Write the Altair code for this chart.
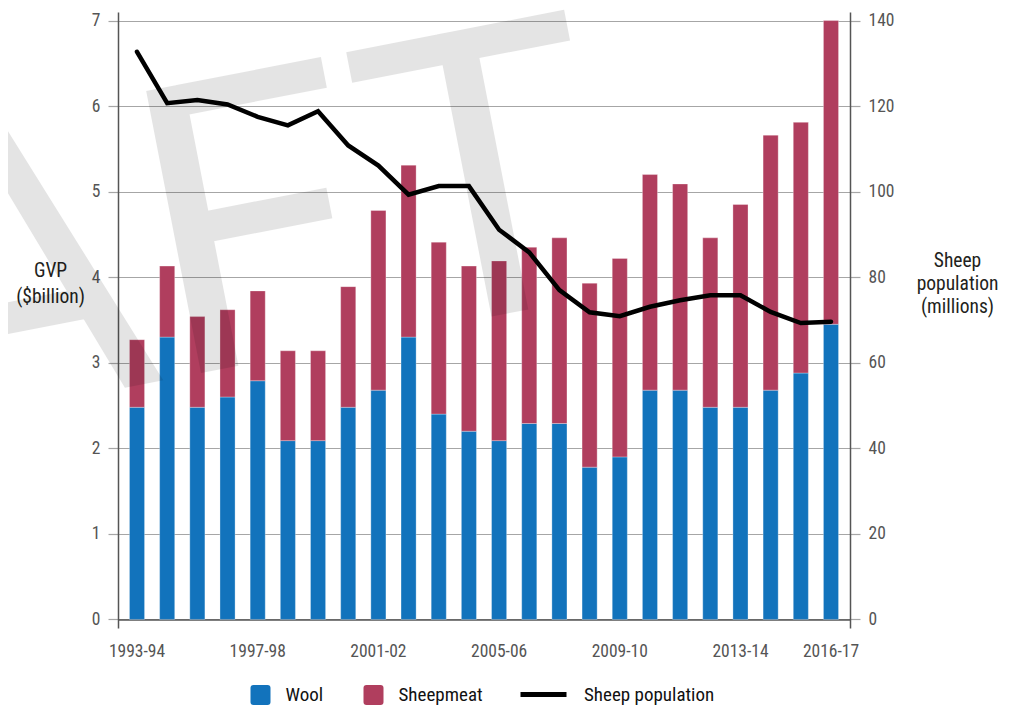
import json
import altair as alt
import pandas as pd

# ---------------- data ----------------
YEARS = ["1993-94", "1994-95", "1995-96", "1996-97", "1997-98", "1998-99",
         "1999-00", "2000-01", "2001-02", "2002-03", "2003-04", "2004-05",
         "2005-06", "2006-07", "2007-08", "2008-09", "2009-10", "2010-11",
         "2011-12", "2012-13", "2013-14", "2014-15", "2015-16", "2016-17"]
WOOL = [2.48, 3.30, 2.48, 2.60, 2.79, 2.09, 2.09, 2.48, 2.68, 3.30, 2.40, 2.20,
        2.09, 2.29, 2.29, 1.78, 1.90, 2.68, 2.68, 2.48, 2.48, 2.68, 2.88, 3.45]
SHEEPMEAT = [0.79, 0.83, 1.06, 1.02, 1.05, 1.05, 1.05, 1.41, 2.10, 2.01, 2.01, 1.93,
             2.10, 2.06, 2.17, 2.15, 2.32, 2.52, 2.41, 1.98, 2.37, 2.98, 2.93, 3.55]
POPULATION = [132.7, 120.7, 121.4, 120.4, 117.5, 115.5, 118.8, 110.8, 106.1, 99.3,
              101.3, 101.3, 91.1, 85.8, 77.0, 71.8, 70.9, 73.1, 74.6, 75.8,
              75.8, 71.9, 69.3, 69.6]
SHOWN_LABELS = ["1993-94", "1997-98", "2001-02", "2005-06", "2009-10", "2013-14", "2016-17"]
GVP_TICKS = [0, 1, 2, 3, 4, 5, 6, 7]
POP_TICKS = [0, 20, 40, 60, 80, 100, 120, 140]
SERIES = ["Wool", "Sheepmeat"]
LINE_LABEL = "Sheep population"
LEFT_TITLE = ["GVP", "($billion)"]
RIGHT_TITLE = ["Sheep", "population", "(millions)"]
WATERMARK = "DRAFT"

# ---------------- style ----------------
BLUE = "#1273bc"
RED = "#b03e5e"
FONT = "Roboto Condensed"
WM_FONT = "Roboto"
LABEL_GREY = "#555555"
TITLE_COL = "#231f20"
GRID_COL = "#a6a6a6"
AXIS_COL = "#555555"
TICK_FS = 17.5
TITLE_FS = 19.5
LEGEND_FS = 19
ROUNDED_SQUARE = ("M-1,-0.7Q-1,-1,-0.7,-1L0.7,-1Q1,-1,1,-0.7L1,0.7Q1,1,0.7,1"
                  "L-0.7,1Q-1,1,-1,0.7Z")

rows = []
for i, y in enumerate(YEARS):
    rows.append({"year": y, "series": "Wool", "value": WOOL[i], "ord": 0})
    rows.append({"year": y, "series": "Sheepmeat", "value": SHEEPMEAT[i], "ord": 1})
bars_df = pd.DataFrame(rows)
line_df = pd.DataFrame({"year": YEARS, "pop": POPULATION, "label": LINE_LABEL})
wm_df = pd.DataFrame({"t": [WATERMARK]})

label_expr = "indexof(" + json.dumps(SHOWN_LABELS) + ", datum.value) >= 0 ? datum.value : ''"

x_enc = alt.X(
    "year:N", sort=YEARS,
    scale=alt.Scale(paddingInner=0.5, paddingOuter=0.38),
    axis=alt.Axis(title=None, labelExpr=label_expr, ticks=False, tickSize=0,
                  domain=True, domainColor=AXIS_COL, domainWidth=1.5, offset=-8.56,
                  labelAngle=0, labelFont=FONT, labelFontSize=TICK_FS, labelColor=LABEL_GREY,
                  labelPadding=23),
)

bars = alt.Chart(bars_df).mark_bar(stroke="white", strokeWidth=0.5, strokeOpacity=0.6).encode(
    x=x_enc,
    y=alt.Y("value:Q", stack="zero",
            scale=alt.Scale(domain=[-0.1, 7.1], nice=False, zero=False),
            axis=alt.Axis(values=GVP_TICKS, title=LEFT_TITLE, titleAngle=0,
                          titleAlign="center", titleBaseline="middle",
                          titleX=-68, titleY=258, titleFont=FONT, titleFontSize=TITLE_FS,
                          titleFontWeight="normal", titleColor=TITLE_COL, titleLineHeight=26,
                          labelFont=FONT, labelFontSize=TICK_FS, labelColor=LABEL_GREY,
                          labelPadding=8, tickSize=10, tickColor=GRID_COL, tickWidth=1.2,
                          grid=True, gridColor=GRID_COL, gridWidth=1.2,
                          domainColor=AXIS_COL, domainWidth=1.5)),
    color=alt.Color("series:N", scale=alt.Scale(domain=SERIES, range=[BLUE, RED]),
                    legend=alt.Legend(orient="none", legendX=132.5, legendY=673,
                                      direction="horizontal", title=None,
                                      symbolType=ROUNDED_SQUARE, symbolSize=400,
                                      symbolStrokeWidth=0, labelFont=FONT,
                                      labelFontSize=LEGEND_FS, labelColor="#111111",
                                      labelOffset=15, columnPadding=40, padding=0)),
    order=alt.Order("ord:Q"),
)

line = alt.Chart(line_df).mark_line(strokeWidth=4.5, strokeCap="round").encode(
    x=alt.X("year:N", sort=YEARS),
    y=alt.Y("pop:Q", scale=alt.Scale(domain=[-2, 142], nice=False, zero=False),
            axis=alt.Axis(orient="right", values=POP_TICKS, title=RIGHT_TITLE,
                          titleAngle=0, titleAlign="center", titleBaseline="middle",
                          titleX=107, titleY=248, titleFont=FONT, titleFontSize=TITLE_FS,
                          titleFontWeight="normal", titleColor=TITLE_COL, titleLineHeight=23,
                          labelFont=FONT, labelFontSize=TICK_FS, labelColor=LABEL_GREY,
                          labelPadding=8, tickSize=10, tickColor=GRID_COL, tickWidth=1.2,
                          grid=False, domainColor=AXIS_COL, domainWidth=1.5)),
    stroke=alt.Stroke("label:N", scale=alt.Scale(domain=[LINE_LABEL], range=["#000000"]),
                      legend=alt.Legend(orient="none", legendX=400, legendY=657, title=None,
                                        symbolType="stroke", symbolSize=2116,
                                        symbolStrokeWidth=5, labelFont=FONT,
                                        labelFontSize=LEGEND_FS, labelColor="#111111",
                                        labelOffset=15, padding=0)),
)

watermark = alt.Chart(wm_df).mark_text(
    align="right", baseline="alphabetic", angle=349, fontSize=404,
    font=WM_FONT, color="#000000", opacity=0.1,
).encode(text="t:N", x=alt.value(510), y=alt.value(278))

chart = alt.layer(bars, line, watermark).resolve_scale(y="independent").properties(
    width=732, height=616,
    autosize=alt.AutoSizeParams(type="none"),
    padding={"left": 110, "top": 4, "right": 153, "bottom": 80},
).configure_view(stroke=None)

chart.save("out.html", embed_options={"renderer": "svg", "actions": False})
